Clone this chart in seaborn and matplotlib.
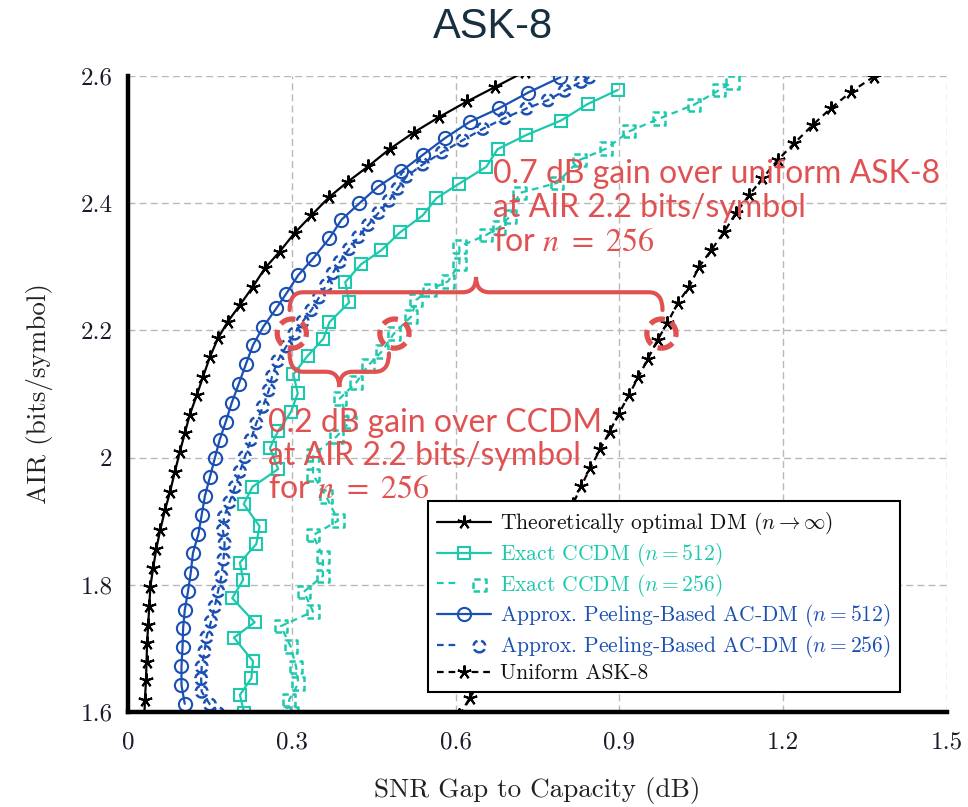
import numpy as np
import pandas as pd
import matplotlib
matplotlib.use("Agg")
import matplotlib.pyplot as plt
import seaborn as sns
from matplotlib.lines import Line2D
from matplotlib.path import Path
from matplotlib.patches import PathPatch
from matplotlib.legend_handler import HandlerTuple

# ---------------- data ----------------
theory_x = [0.030, 0.031, 0.033, 0.034, 0.035, 0.037, 0.039, 0.041, 0.046, 0.052, 0.059, 0.068,
            0.077, 0.086, 0.095, 0.104, 0.113, 0.126, 0.137, 0.150, 0.165, 0.183, 0.205, 0.229,
            0.251, 0.278, 0.305, 0.336, 0.369, 0.403, 0.440, 0.479, 0.523, 0.569, 0.621, 0.673, 0.727]
theory_y = [1.592, 1.619, 1.650, 1.679, 1.708, 1.737, 1.766, 1.797, 1.826, 1.857, 1.886, 1.918,
            1.946, 1.978, 2.009, 2.038, 2.067, 2.098, 2.126, 2.158, 2.188, 2.214, 2.240, 2.269,
            2.298, 2.324, 2.353, 2.381, 2.410, 2.434, 2.458, 2.485, 2.511, 2.535, 2.560, 2.583, 2.607]

ccdm512_x = [0.213, 0.205, 0.226, 0.229, 0.194, 0.232, 0.191, 0.211, 0.205, 0.235, 0.241, 0.212,
             0.228, 0.275, 0.260, 0.275, 0.298, 0.311, 0.303, 0.329, 0.358, 0.369, 0.405, 0.398,
             0.427, 0.464, 0.498, 0.540, 0.565, 0.607, 0.656, 0.677, 0.729, 0.793, 0.842, 0.897]
ccdm512_y = [1.598, 1.627, 1.653, 1.680, 1.717, 1.741, 1.779, 1.808, 1.835, 1.864, 1.892, 1.927,
             1.954, 1.982, 2.015, 2.042, 2.071, 2.101, 2.131, 2.160, 2.187, 2.213, 2.244, 2.276,
             2.304, 2.326, 2.354, 2.381, 2.408, 2.431, 2.457, 2.485, 2.507, 2.530, 2.556, 2.578]

ccdm256_x = [0.300, 0.295, 0.312, 0.308, 0.298, 0.280, 0.339, 0.322, 0.357, 0.357, 0.339, 0.385,
             0.363, 0.339, 0.339, 0.382, 0.406, 0.388, 0.418, 0.440, 0.465, 0.487, 0.519, 0.528,
             0.552, 0.586, 0.607, 0.607, 0.656, 0.680, 0.699, 0.717, 0.786, 0.827, 0.876, 0.918,
             0.973, 1.037, 1.083, 1.107]
ccdm256_y = [1.598, 1.619, 1.645, 1.671, 1.703, 1.735, 1.758, 1.789, 1.814, 1.844, 1.878, 1.901,
             1.939, 1.973, 2.004, 2.033, 2.056, 2.093, 2.118, 2.145, 2.167, 2.195, 2.222, 2.248,
             2.264, 2.277, 2.305, 2.332, 2.350, 2.362, 2.379, 2.416, 2.432, 2.468, 2.486, 2.513,
             2.533, 2.555, 2.578, 2.590]

ac512_x = [0.104, 0.098, 0.098, 0.100, 0.101, 0.104, 0.110, 0.115, 0.119, 0.129, 0.135, 0.141,
           0.150, 0.159, 0.168, 0.179, 0.190, 0.203, 0.216, 0.229, 0.248, 0.272, 0.290, 0.312,
           0.339, 0.369, 0.391, 0.424, 0.458, 0.500, 0.540, 0.580, 0.626, 0.679, 0.733, 0.792]
ac512_y = [1.613, 1.642, 1.672, 1.703, 1.732, 1.760, 1.790, 1.819, 1.850, 1.880, 1.910, 1.940,
           1.969, 1.999, 2.028, 2.056, 2.086, 2.116, 2.147, 2.177, 2.206, 2.235, 2.258, 2.287,
           2.313, 2.345, 2.374, 2.400, 2.426, 2.450, 2.476, 2.502, 2.528, 2.549, 2.574, 2.598]

ac256_x = [0.165, 0.150, 0.135, 0.134, 0.135, 0.140, 0.144, 0.152, 0.159, 0.165, 0.171, 0.175,
           0.177, 0.174, 0.176, 0.186, 0.196, 0.205, 0.214, 0.225, 0.235, 0.247, 0.258, 0.264,
           0.274, 0.290, 0.305, 0.320, 0.336, 0.350, 0.363, 0.375, 0.388, 0.405, 0.422, 0.440,
           0.459, 0.478, 0.494, 0.510, 0.540, 0.575, 0.613, 0.650, 0.690, 0.730, 0.769, 0.800,
           0.830, 0.845]
ac256_y = [1.598, 1.612, 1.632, 1.652, 1.671, 1.695, 1.718, 1.742, 1.766, 1.790, 1.813, 1.840,
           1.865, 1.886, 1.907, 1.930, 1.954, 1.978, 2.001, 2.028, 2.054, 2.080, 2.106, 2.128,
           2.152, 2.175, 2.195, 2.214, 2.232, 2.252, 2.271, 2.290, 2.308, 2.328, 2.347, 2.366,
           2.385, 2.404, 2.423, 2.442, 2.461, 2.480, 2.499, 2.517, 2.534, 2.549, 2.562, 2.577,
           2.591, 2.598]

uniform_x = [0.607, 0.626, 0.645, 0.664, 0.682, 0.700, 0.718, 0.735, 0.752, 0.768, 0.785, 0.800,
             0.815, 0.830, 0.846, 0.865, 0.882, 0.899, 0.917, 0.935, 0.952, 0.970, 0.988, 1.007,
             1.028, 1.046, 1.068, 1.092, 1.113, 1.138, 1.162, 1.190, 1.220, 1.254, 1.287, 1.324, 1.366]
uniform_y = [1.595, 1.622, 1.649, 1.676, 1.703, 1.731, 1.759, 1.787, 1.815, 1.843, 1.871, 1.899,
             1.927, 1.955, 1.983, 2.013, 2.041, 2.069, 2.098, 2.127, 2.155, 2.185, 2.212, 2.243,
             2.269, 2.300, 2.326, 2.355, 2.384, 2.413, 2.439, 2.468, 2.494, 2.523, 2.549, 2.575, 2.599]

# highlighted operating points at AIR 2.2 (AC-DM 256, CCDM 256, uniform)
mark_x = [0.300, 0.488, 0.977]
mark_y = [2.195, 2.195, 2.195]

x_ticks = [0, 0.3, 0.6, 0.9, 1.2, 1.5]
x_tick_labels = ["0", "0.3", "0.6", "0.9", "1.2", "1.5"]
y_ticks = [1.6, 1.8, 2.0, 2.2, 2.4, 2.6]
y_tick_labels = ["1.6", "1.8", "2", "2.2", "2.4", "2.6"]

labels = [r"Theoretically optimal DM $(n\rightarrow\infty)$",
          r"Exact CCDM $(n=512)$",
          r"Exact CCDM $(n=256)$",
          r"Approx. Peeling-Based AC-DM $(n=512)$",
          r"Approx. Peeling-Based AC-DM $(n=256)$",
          r"Uniform ASK-8"]
note_uniform = "0.7 dB gain over uniform ASK-8\nat AIR 2.2 bits/symbol\nfor $n$ $=$ $256$"
note_ccdm = "0.2 dB gain over CCDM\nat AIR 2.2 bits/symbol\nfor $n$ $=$ $256$"

# ---------------- style ----------------
sns.set_theme(style="white")
plt.rcParams["font.family"] = ["cmr10", "DejaVu Serif"]
plt.rcParams["mathtext.fontset"] = "cm"
plt.rcParams["axes.formatter.use_mathtext"] = True

BLACK = "#000000"
TEAL = "#1cc9ad"
BLUE = "#1a4fb3"
RED = "#e05252"
DASH = (0, (3, 2.2))
STAR = (5, 2, 0)

fig = plt.figure(figsize=(9.68, 8.07), dpi=100)
ax = fig.add_axes([0.1322, 0.1177, 0.8461, 0.7881])


def draw_line(x, y, color, ls, marker=None, ms=9, mew=1.5, lw=1.6):
    df = pd.DataFrame({"x": x, "y": y})
    sns.lineplot(data=df, x="x", y="y", sort=False, estimator=None, ax=ax,
                 color=color, linestyle=ls, linewidth=lw, marker=marker,
                 ms=ms, mew=mew, mec=color, mfc="none", zorder=2)


def draw_dashed_marks(x, y, color, marker, s=80):
    return sns.scatterplot(x=x, y=y, ax=ax, marker=marker, s=s, color=color,
                           facecolor="none", edgecolor=color, linewidth=1.8,
                           linestyle=(0, (2.6, 1.5)), legend=False, zorder=3)


draw_line(uniform_x, uniform_y, BLACK, DASH, marker=STAR, ms=10)
draw_line(ccdm256_x, ccdm256_y, TEAL, DASH)
draw_dashed_marks(ccdm256_x, ccdm256_y, TEAL, "s", s=78)
sc_c256 = ax.collections[-1]
draw_line(ccdm512_x, ccdm512_y, TEAL, "-", marker="s", ms=9)
draw_line(ac256_x, ac256_y, BLUE, DASH)
draw_dashed_marks(ac256_x, ac256_y, BLUE, "o", s=72)
sc_a256 = ax.collections[-1]
draw_line(ac512_x, ac512_y, BLUE, "-", marker="o", ms=9.5)
draw_line(theory_x, theory_y, BLACK, "-", marker=STAR, ms=10)

# red dashed circles
sns.scatterplot(x=mark_x, y=mark_y, ax=ax, marker="o", s=440, color=RED,
                facecolor="none", edgecolor=RED, linewidth=3.8,
                linestyle=(0.6, (3.0, 1.3)), legend=False, zorder=4)


# curly braces
def brace(x0, x1, y_end, y_h, y_tip, rx=0.025):
    xm = 0.5 * (x0 + x1)
    verts = [(x0, y_end), (x0, y_h), (x0 + rx, y_h),
             (xm - rx, y_h),
             (xm, y_h), (xm, y_tip),
             (xm, y_h), (xm + rx, y_h),
             (x1 - rx, y_h),
             (x1, y_h), (x1, y_end)]
    codes = [Path.MOVETO, Path.CURVE3, Path.CURVE3, Path.LINETO,
             Path.CURVE3, Path.CURVE3, Path.CURVE3, Path.CURVE3,
             Path.LINETO, Path.CURVE3, Path.CURVE3]
    ax.add_patch(PathPatch(Path(verts, codes), fill=False, edgecolor=RED,
                           linewidth=3.0, zorder=4, capstyle="round"))


brace(mark_x[0] - 0.004, mark_x[2] + 0.002, 2.232, 2.260, 2.284)
brace(mark_x[0] - 0.004, mark_x[1] - 0.010, 2.164, 2.135, 2.111)

# annotations
ax.text(0.668, 2.470, note_uniform, color=RED, fontsize=23, family="Lato",
        math_fontfamily="stix", va="top", ha="left", linespacing=1.17, zorder=5)
ax.text(0.256, 2.078, note_ccdm, color=RED, fontsize=23, family="Lato",
        math_fontfamily="stix", va="top", ha="left", linespacing=1.12, zorder=5)

# axes
ax.set_xlim(0, 1.5)
ax.set_ylim(1.6, 2.6)
ax.set_xticks(x_ticks)
ax.set_xticklabels(x_tick_labels)
ax.set_yticks(y_ticks)
ax.set_yticklabels(y_tick_labels)
ax.grid(True, color="#b8b8b8", linestyle=(0, (5, 3)), linewidth=1.0)
ax.set_axisbelow(True)
for s in ["top", "right"]:
    ax.spines[s].set_visible(False)
for s in ["left", "bottom"]:
    ax.spines[s].set_linewidth(3.2)
    ax.spines[s].set_color("black")
    ax.spines[s].set_zorder(6)
ax.tick_params(direction="inout", length=6, width=0.8, color="#999999",
               labelsize=18, labelcolor="#1a1a2a")
ax.tick_params(axis="x", pad=11)
ax.tick_params(axis="y", pad=8)
ax.set_xlabel("SNR Gap to Capacity (dB)", fontsize=19.5, color="#222222", labelpad=17)
ax.set_ylabel("AIR (bits/symbol)", fontsize=19.5, color="#222222", labelpad=20)

# legend
handles = [
    Line2D([], [], color=BLACK, lw=1.6, marker=STAR, ms=10, mew=1.5),
    Line2D([], [], color=TEAL, lw=1.6, marker="s", ms=9, mew=1.5, mfc="none"),
    (Line2D([], [], color=TEAL, lw=1.6, linestyle=DASH), sc_c256),
    Line2D([], [], color=BLUE, lw=1.6, marker="o", ms=9.5, mew=1.5, mfc="none"),
    (Line2D([], [], color=BLUE, lw=1.6, linestyle=DASH), sc_a256),
    Line2D([], [], color=BLACK, lw=1.6, linestyle=DASH, marker=STAR, ms=10, mew=1.5),
]
leg = ax.legend(handles, labels, handler_map={tuple: HandlerTuple(ndivide=None)},
                loc="lower left", bbox_to_anchor=(0.366, 0.031), borderaxespad=0,
                fontsize=15.5, handlelength=2.5, handletextpad=0.45, labelspacing=0.17,
                borderpad=0.42, fancybox=False, framealpha=1, edgecolor="black",
                facecolor="white")
leg.get_frame().set_linewidth(1.5)
leg.set_zorder(10)
for t, c in zip(leg.get_texts(), ["#111111", TEAL, TEAL, BLUE, BLUE, "#111111"]):
    t.set_color(c)

fig.text(0.509, 0.966, "ASK-8", ha="center", va="center", fontsize=30,
         family="Liberation Sans", color="#17303f")

fig.savefig("out.png", dpi=100)
